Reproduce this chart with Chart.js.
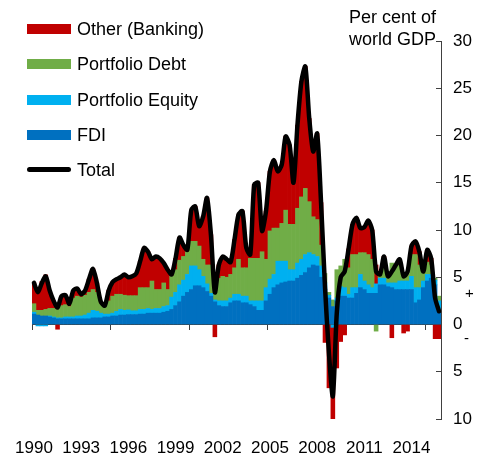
<!DOCTYPE html>
<html>
<head>
<meta charset="utf-8">
<script src="https://cdn.jsdelivr.net/npm/chart.js@4.4.1/dist/chart.umd.min.js"></script>
<style>
  body { margin: 0; background: #fff; }
  #wrap { position: relative; width: 480px; height: 472px; font-family: "Liberation Sans", Arial, sans-serif; color: #000; }
  .item { position: absolute; left: 27px; height: 20px; width: 220px; font-size: 18px; line-height: 20px; white-space: nowrap; }
  .swatch { position: absolute; left: 0; top: 5px; width: 44px; height: 10px; }
  .swatch.line { top: 7px; height: 5px; border-radius: 3px; }
  .item .label { position: absolute; left: 50px; top: 0; }
  .unit { position: absolute; right: 44px; top: 6px; text-align: right; font-size: 18px; line-height: 22px; }
  .sign { position: absolute; font-size: 15px; line-height: 15px; }
</style>
</head>
<body>
<div id="wrap">
  <canvas id="chart" width="480" height="472"></canvas>
  <div id="legend"></div>
  <div class="unit">Per cent of<br>world GDP</div>
  <div class="sign" style="left:465px;top:285px">+</div>
  <div class="sign" style="left:464px;top:330px">-</div>
</div>
<script>
// quarterly capital flows, 1990 Q1 - 2015 Q4
var quarters = [];
for (var yr = 1990; yr <= 2015; yr++) {
    for (var q = 1; q <= 4; q++) quarters.push(yr + ' Q' + q);
}
var tickYears = ['1990', '1993', '1996', '1999', '2002', '2005', '2008', '2011', '2014'];
var markYears = ['1990', '1995', '2000', '2005', '2010', '2015'];

var fdi = [
    1.1, 1.0, 0.9, 0.9, 0.8, 0.7, 0.6, 0.6, 0.6, 0.6, 0.6, 0.6, 0.6, 0.6, 0.6, 0.7,
    0.7, 0.7, 0.8, 0.8, 0.9, 0.9, 1.0, 1.0, 1.05, 1.05, 1.05, 1.1, 1.1, 1.2, 1.2, 1.2,
    1.2, 1.3, 1.4, 1.6, 2.0, 2.4, 3.0, 3.4, 3.7, 4.1, 4.1, 3.9, 3.5, 3.0, 2.4, 2.0,
    1.9, 1.9, 2.3, 2.5, 2.5, 2.3, 2.3, 2.1, 1.9, 1.5, 1.5, 2.5, 3.2, 3.9, 4.2, 4.4,
    4.5, 4.6, 4.6, 4.9, 5.2, 5.5, 6.0, 6.3, 6.2, 5.0, 3.7, 2.8, 1.9, 2.5, 3.0, 3.0,
    2.8, 2.8, 3.3, 3.9, 3.7, 3.3, 3.3, 3.3, 4.2, 4.2, 4.0, 3.9, 3.7, 3.7, 3.7, 3.7,
    3.7, 2.3, 2.6, 3.9, 4.6, 4.9, 4.2, 1.5
];
var equity = [
    0.2, -0.15, -0.15, -0.15, 0.1, 0.1, 0.1, 0.1, 0.2, 0.2, 0.2, 0.3, 0.3, 0.4, 0.6, 0.8,
    0.7, 0.5, 0.3, 0.3, 0.3, 0.5, 0.6, 0.5, 0.5, 0.4, 0.4, 0.5, 0.5, 0.5, 0.4, 0.5,
    0.5, 0.6, 0.6, 1.3, 1.4, 1.8, 1.7, 1.9, 2.5, 2.1, 1.7, 1.2, 0.8, 0.3, 0.2, 0.5,
    0.6, 0.6, 0.5, 0.7, 0.7, 0.7, 0.7, 0.4, 0.6, 1.0, 1.0, 1.4, 1.6, 1.4, 2.5, 2.3,
    2.2, 1.2, 1.2, 1.6, 1.7, 1.9, 1.6, 1.1, 1.0, 1.2, 0.7, 0.3, -0.3, 0.3, 1.0, 0.9,
    0.4, 1.1, 0.6, 1.4, 0.9, 0.9, 0.6, 1.0, 0.7, 0.7, 0.4, 0.5, 0.7, 0.9, 0.9, 0.9,
    1.4, 1.6, 1.3, 0.7, 0.7, 0.4, 0.5, 1.0
];
var debt = [
    0.9, 0.5, 0.6, 0.7, 0.8, 0.9, 1.6, 1.3, 1.3, 1.1, 2.0, 2.1, 2.0, 2.1, 2.2, 2.2,
    2.0, 1.0, 0.9, 1.4, 1.8, 1.8, 1.6, 1.6, 1.5, 1.6, 1.6, 2.3, 2.3, 2.2, 3.0, 2.0,
    2.0, 2.5, 1.7, 2.2, 2.4, 2.6, 2.5, 2.4, 2.6, 2.6, 2.5, 1.8, 2.0, 3.0, 1.1, 2.4,
    2.6, 2.5, 2.5, 2.8, 3.7, 3.0, 3.0, 4.5, 4.5, 4.5, 5.2, 3.0, 5.1, 4.9, 3.5, 4.0,
    5.4, 4.8, 4.8, 5.8, 6.6, 7.0, 5.4, 4.0, 3.9, 2.2, 1.0, 0.3, 0.7, 3.0, 2.2, 3.0,
    2.8, 3.5, 3.5, 2.3, 3.0, 3.2, 3.0, -0.7, 0.4, 1.4, 0.9, 2.1, 1.9, 1.7, 0.7, 0.7,
    2.3, 3.5, 2.4, 1.0, 1.3, 1.0, 0.2, 0.5
];
var other = [
    2.2, 2.05, 3.05, 3.65, 1.9, 0.8, -0.5, 1.0, 1.0, 0.3, 0.8, 0.8, 0.3, 0.5, 1.4, 2.2,
    1.0, 0.2, 0.0, 1.1, 1.5, 1.6, 1.8, 2.2, 1.95, 2.05, 2.35, 2.8, 4.2, 3.8, 2.3, 3.5,
    3.3, 2.1, 2.1, 0.2, 1.2, 2.4, 1.2, 0.2, 3.3, 3.7, 2.1, 4.5, 7.1, 3.2, -1.3, 1.4,
    2.1, 1.9, 1.3, 3.0, 4.7, 6.0, 2.1, 0.4, 7.8, 8.0, 2.2, 5.1, 6.3, 7.2, 6.0, 6.2,
    7.8, 8.4, 4.4, 8.8, 12.2, 12.9, 8.8, 6.9, 9.1, 4.5, -1.9, -6.7, -9.8, -4.6, -1.8, -1.1,
    2.0, 3.2, 3.9, 2.6, 2.7, 3.6, 3.1, 2.0, 0.0, 0.9, 0.0, -1.4, 0.0, 0.6, -0.9, -0.7,
    0.9, 1.4, 1.4, 0.0, 1.3, 0.7, -1.5, -1.5
];
var total = [
    4.4, 3.4, 4.4, 5.1, 3.6, 2.5, 1.8, 3.0, 3.1, 2.2, 3.6, 3.8, 3.2, 3.6, 4.8, 5.9,
    4.4, 2.4, 2.0, 3.6, 4.5, 4.8, 5.0, 5.3, 5.0, 5.1, 5.4, 6.7, 8.1, 7.7, 6.9, 7.2,
    7.0, 6.5, 5.8, 5.3, 7.0, 9.2, 8.4, 7.9, 12.1, 12.5, 10.4, 11.4, 13.4, 9.5, 3.4, 6.3,
    7.2, 6.9, 6.6, 9.0, 11.6, 12.0, 8.1, 7.4, 14.8, 15.0, 9.9, 12.0, 16.2, 17.4, 16.2, 16.9,
    19.9, 19.0, 15.0, 21.1, 25.7, 27.3, 21.8, 18.3, 20.2, 12.9, 4.0, -3.0, -7.6, 1.2, 5.0, 5.6,
    8.0, 10.6, 11.3, 10.2, 10.3, 11.0, 10.0, 5.6, 5.3, 7.2, 5.1, 5.6, 6.3, 6.9, 5.1, 5.6,
    8.3, 8.8, 7.7, 5.6, 7.9, 7.0, 2.8, 1.4
];

var fontFamily = '"Liberation Sans", Arial, sans-serif';
var axisColor = '#404040';

function barSet(label, data, color) {
    return {
        type: 'bar',
        label: label,
        data: data,
        backgroundColor: color,
        borderWidth: 0,
        barPercentage: 1,
        categoryPercentage: 1,
        stack: 'flows',
        order: 1,
        xAxisID: 'x',
        yAxisID: 'y'
    };
}

var datasets = [
    barSet('FDI', fdi, '#0070C0'),
    barSet('Portfolio Equity', equity, '#00B0F0'),
    barSet('Portfolio Debt', debt, '#70AD47'),
    barSet('Other (Banking)', other, '#C00000'),
    {
        type: 'line',
        label: 'Total',
        data: total,
        borderColor: '#000',
        borderWidth: 4.5,
        borderJoinStyle: 'round',
        borderCapStyle: 'round',
        pointRadius: 0,
        tension: 0.25,
        fill: false,
        stack: 'total',
        order: 0,
        xAxisID: 'x',
        yAxisID: 'y'
    }
];

// legend, top to bottom
var legendOrder = ['Other (Banking)', 'Portfolio Debt', 'Portfolio Equity', 'FDI', 'Total'];
var legendTops = [19, 54, 90, 125, 160];
var $legend = document.getElementById('legend');
legendOrder.forEach(function (name, i) {
    var ds = datasets.filter(function (d) { return d.label === name; })[0];
    var item = document.createElement('div');
    item.className = 'item';
    item.style.top = legendTops[i] + 'px';
    var sw = document.createElement('div');
    sw.className = ds.type === 'line' ? 'swatch line' : 'swatch';
    sw.style.background = ds.type === 'line' ? ds.borderColor : ds.backgroundColor;
    var txt = document.createElement('span');
    txt.className = 'label';
    txt.textContent = name;
    item.appendChild(sw);
    item.appendChild(txt);
    $legend.appendChild(item);
});

var ctx = document.getElementById('chart');
var chart = new Chart(ctx, {
    data: {
        labels: quarters,
        datasets: datasets
    },
    options: {
        responsive: false,
        animation: false,
        devicePixelRatio: 1,
        layout: { padding: { left: 32, top: 41, right: 0, bottom: 0 } },
        plugins: {
            legend: { display: false },
            tooltip: { enabled: false }
        },
        scales: {
            x: {
                type: 'category',
                position: 'bottom',
                offset: true,
                grid: { display: false },
                border: { display: false },
                ticks: {
                    autoSkip: false,
                    maxRotation: 0,
                    minRotation: 0,
                    padding: 11,
                    color: '#000',
                    font: { family: fontFamily, size: 17 },
                    callback: function (value, index) {
                        var lab = quarters[index];
                        var year = lab.slice(0, 4);
                        return lab.slice(5) === 'Q1' && tickYears.indexOf(year) >= 0 ? year : '';
                    }
                },
                afterFit: function (scale) { scale.height = 53; }
            },
            xz: {
                type: 'category',
                position: { y: 0 },
                offset: true,
                grid: {
                    offset: true,
                    drawOnChartArea: false,
                    tickLength: 5,
                    color: function (c) {
                        var lab = quarters[c.index];
                        return lab && lab.slice(5) === 'Q1' && markYears.indexOf(lab.slice(0, 4)) >= 0 ? axisColor : 'rgba(0,0,0,0)';
                    }
                },
                border: { display: true, color: axisColor, width: 1 },
                ticks: { display: false }
            },
            y: {
                position: 'right',
                stacked: true,
                min: -10,
                max: 30,
                grid: { drawOnChartArea: false, tickLength: -5, color: axisColor },
                border: { display: true, color: axisColor, width: 1 },
                ticks: {
                    stepSize: 5,
                    padding: 17,
                    color: '#000',
                    font: { family: fontFamily, size: 17 },
                    callback: function (v) { return Math.abs(v); }
                },
                afterFit: function (scale) { scale.width = 39; }
            }
        }
    }
});
</script>
</body>
</html>
